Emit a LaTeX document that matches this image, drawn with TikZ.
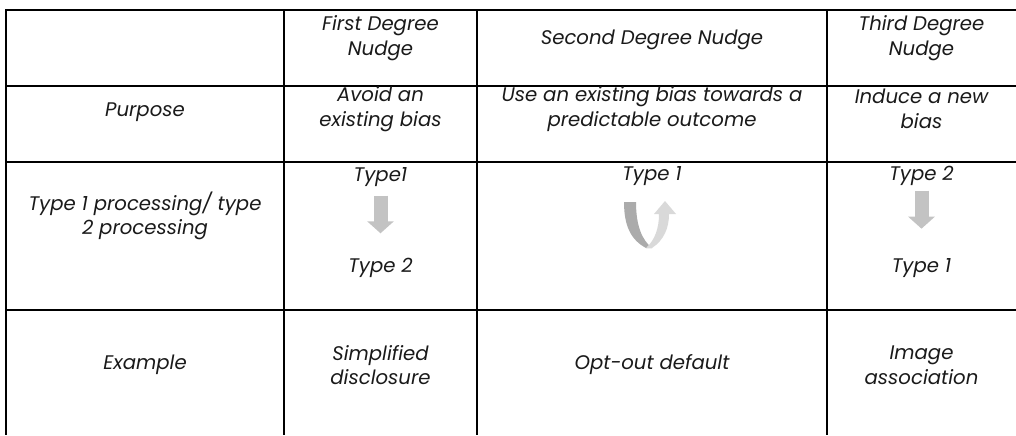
\documentclass[tikz,border=0pt]{standalone}
\usepackage{fontspec}
\setmainfont{Poppins}
\usetikzlibrary{arrows.meta}
\definecolor{nudge-text}{HTML}{1A1A1A}
\definecolor{nudge-arrow}{HTML}{C3C3C3}
\definecolor{nudge-dark}{HTML}{ABABAB}
\definecolor{nudge-light}{HTML}{D9D9D9}

\begin{document}
\begin{tikzpicture}[x=0.25mm, y=-0.25mm,
    cell/.style={align=center, text=nudge-text,
        font=\fontsize{14}{17.5}\selectfont\itshape},
    rule/.style={line width=0.5mm},
    blockdown/.style={nudge-arrow, line width=3.5mm,
        -{Triangle[width=6.5mm, length=3mm]}}]

    \useasboundingbox (0,0) rectangle (1016,435);

    % table rules, open on the right and at the bottom
    \draw[rule] (1016,10) -- (6,10) -- (6,435);
    \foreach \y in {86,162,310}
        \draw[rule] (6,\y) -- (1016,\y);
    \foreach \x in {284,477,827}
        \draw[rule] (\x,10) -- (\x,435);

    % header row
    \node[cell] (head1) at (380.5,38) {First Degree\\Nudge};
    \node[cell] (head2) at (652,40) {Second Degree Nudge};
    \node[cell] (head3) at (921.5,38) {Third Degree\\Nudge};

    % purpose row
    \node[cell] (purpose) at (145,112) {Purpose};
    \node[cell] (purp1) at (380.5,109) {Avoid an\\existing bias};
    \node[cell] (purp2) at (652,109) {Use an existing bias towards a\\predictable outcome};
    \node[cell] (purp3) at (921.5,109) {Induce a new\\bias};

    % processing row
    \node[cell] (proc) at (145,216) {Type 1 processing/ type\\2 processing};
    \node[cell] (proc1a) at (380.5,177) {Type1};
    \node[cell] (proc1b) at (380.5,268) {Type 2};
    \node[cell] (proc2) at (652,176) {Type 1};
    \node[cell] (proc3a) at (921.5,176) {Type 2};
    \node[cell] (proc3b) at (921.5,268) {Type 1};

    \draw[blockdown, shorten <=1mm, shorten >=5mm] (proc1a) -- (proc1b);
    \draw[blockdown, shorten <=0mm, shorten >=6.2mm] (proc3a) -- (proc3b);

    % turning arrow: dark band down, light band back up
    \fill[nudge-dark] (624,202) -- (636,202)
        .. controls (636,226) and (642,240) .. (652,248) -- (646,248)
        .. controls (631,240) and (624,226) .. (624,202) -- cycle;
    \fill[nudge-light] (646,248) -- (652,248)
        .. controls (664,240) and (669,228) .. (669,214)
        -- (676,214) -- (665,201) -- (654,214) -- (659,214)
        .. controls (659,228) and (655,240) .. (646,248) -- cycle;

    % example row
    \node[cell] (example) at (145,365) {Example};
    \node[cell] (ex1) at (380.5,365) {Simplified\\disclosure};
    \node[cell] (ex2) at (652,365) {Opt-out default};
    \node[cell] (ex3) at (921.5,365) {Image\\association};
\end{tikzpicture}
\end{document}
